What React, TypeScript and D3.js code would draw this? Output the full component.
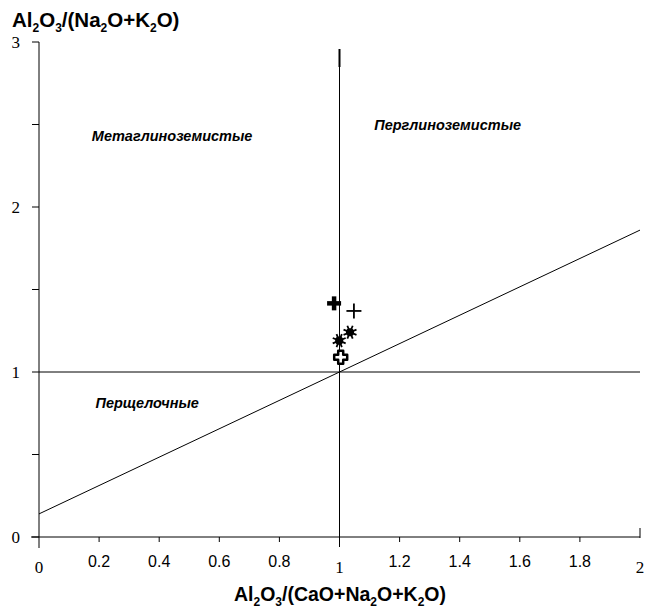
import React from "react";
import * as d3 from "d3";

const W = 650;
const H = 612;

// sample points: A/CNK, A/NK, marker kind
const samplesX = [0.982, 1.048, 1.035, 0.999, 1.004];
const samplesY = [1.416, 1.37, 1.241, 1.19, 1.09];
const samplesKind = ["boldPlus", "plus", "star", "star", "hollowPlus"];

const xTicksInt = [0, 1, 2];
const xTicksDec = [0.2, 0.4, 0.6, 0.8, 1.2, 1.4, 1.6, 1.8];
const yTicks = [0, 0.5, 1, 1.5, 2, 2.5, 3];
const yLabels = [0, 1, 2, 3];

// boundary line A/NK vs A/CNK
const boundX = [0, 2];
const boundY = [0.14, 1.86];

const regions = [
  { name: "Метаглиноземистые", x: 0.443, y: 2.4 },
  { name: "Перглиноземистые", x: 1.36, y: 2.465 },
  { name: "Перщелочные", x: 0.36, y: 0.782 },
];

const x = d3.scaleLinear().domain([0, 2]).range([39, 640]);
const y = d3.scaleLinear().domain([0, 3]).range([537, 42]);

const serif = "'Liberation Serif', 'DejaVu Serif', serif";
const sans = "'Liberation Sans', Arial, sans-serif";

function Marker({ kind, cx, cy }: { kind: string; cx: number; cy: number }) {
  if (kind === "boldPlus") {
    return (
      <g transform={`translate(${cx},${cy})`} stroke="#000" strokeWidth={4.5}>
        <line x1={-7} x2={7} y1={0} y2={0} />
        <line x1={0} x2={0} y1={-7} y2={7} />
      </g>
    );
  }
  if (kind === "plus") {
    return (
      <g transform={`translate(${cx},${cy})`} stroke="#000" strokeWidth={1.8}>
        <line x1={-7.5} x2={7.5} y1={0} y2={0} />
        <line x1={0} x2={0} y1={-7.5} y2={7.5} />
      </g>
    );
  }
  if (kind === "star") {
    const arms = d3.range(8).map((i) => (i * Math.PI) / 4 + Math.PI / 8);
    return (
      <g transform={`translate(${cx},${cy})`} stroke="#000" strokeWidth={1.8}>
        {arms.map((a, i) => (
          <line key={i} x1={0} y1={0} x2={7 * Math.cos(a)} y2={7 * Math.sin(a)} />
        ))}
        <circle r={3.2} fill="#000" />
      </g>
    );
  }
  // hollow plus
  const a = 2.5, b = 6.5;
  const d = `M${-a},${-b}H${a}V${-a}H${b}V${a}H${a}V${b}H${-a}V${a}H${-b}V${-a}H${-a}Z`;
  return (
    <path transform={`translate(${cx},${cy})`} d={d} fill="#fff" stroke="#000" strokeWidth={2.5} strokeLinejoin="round" />
  );
}

function SubTitle({ parts, ...rest }: { parts: [string, boolean][]; [k: string]: any }) {
  // parts: [text, isSubscript]
  let down = false;
  return (
    <text {...rest}>
      {parts.map(([t, sub], i) => {
        let dy = 0;
        if (sub && !down) { dy = 5; down = true; }
        else if (!sub && down) { dy = -5; down = false; }
        return (
          <tspan key={i} dy={dy} fontSize={sub ? 12 : undefined}>
            {t}
          </tspan>
        );
      })}
    </text>
  );
}

const yTitle: [string, boolean][] = [
  ["Al", false], ["2", true], ["O", false], ["3", true], ["/(Na", false], ["2", true], ["O+K", false], ["2", true], ["O)", false],
];
const xTitle: [string, boolean][] = [
  ["Al", false], ["2", true], ["O", false], ["3", true], ["/(CaO+Na", false], ["2", true], ["O+K", false], ["2", true], ["O)", false],
];

export default function App() {
  return (
    <svg
      width={W}
      height={H}
      style={{ position: "absolute", left: 0, top: 0, background: "#fff" }}
    >
      {/* y title */}
      <SubTitle parts={yTitle} x={12} y={27} fontFamily={sans} fontWeight="bold" fontSize={20.5} />

      {/* axes */}
      <line x1={x(0)} x2={x(0)} y1={y(3)} y2={y(0) + 11} stroke="#000" strokeWidth={1} />
      <line x1={x(0) - 8} x2={x(2)} y1={y(0)} y2={y(0)} stroke="#000" strokeWidth={1} />
      {yTicks.map((t) => (
        <line key={t} x1={x(0) - 7} x2={x(0)} y1={y(t)} y2={y(t)} stroke="#000" />
      ))}
      {yLabels.map((t) => (
        <text key={t} x={x(0) - 19} y={y(t) + 6} textAnchor="end" fontFamily={serif} fontSize={17}>
          {t}
        </text>
      ))}
      {xTicksDec.map((t) => (
        <line key={t} x1={x(t)} x2={x(t)} y1={y(0)} y2={y(0) + 5} stroke="#000" />
      ))}
      <line x1={x(1)} x2={x(1)} y1={y(0)} y2={y(0) + 10} stroke="#000" />
      <line x1={x(2)} x2={x(2)} y1={y(0) - 9} y2={y(0) + 1} stroke="#000" />
      {xTicksInt.map((t) => (
        <text key={t} x={x(t)} y={573} textAnchor="middle" fontFamily={serif} fontSize={17}>
          {t}
        </text>
      ))}
      {xTicksDec.map((t) => (
        <text key={t} x={x(t)} y={567} textAnchor="middle" fontFamily={sans} fontSize={16}>
          {d3.format(".1f")(t)}
        </text>
      ))}

      {/* reference lines */}
      <line x1={x(0)} x2={x(2)} y1={y(1)} y2={y(1)} stroke="#000" />
      <line x1={x(1)} x2={x(1)} y1={49} y2={y(0)} stroke="#000" />
      <line x1={x(1)} x2={x(1)} y1={49} y2={67} stroke="#000" strokeWidth={2} />
      <line x1={x(boundX[0])} y1={y(boundY[0])} x2={x(boundX[1])} y2={y(boundY[1])} stroke="#000" />

      {/* region labels */}
      {regions.map((r) => (
        <text
          key={r.name}
          x={x(r.x)}
          y={y(r.y)}
          textAnchor="middle"
          fontFamily={sans}
          fontWeight="bold"
          fontStyle="italic"
          fontSize={14.5}
        >
          {r.name}
        </text>
      ))}

      {/* samples */}
      {samplesX.map((v, i) => (
        <Marker key={i} kind={samplesKind[i]} cx={x(v)} cy={y(samplesY[i])} />
      ))}

      {/* x title */}
      <SubTitle parts={xTitle} x={340} y={601} textAnchor="middle" fontFamily={sans} fontWeight="bold" fontSize={19.5} />
    </svg>
  );
}
